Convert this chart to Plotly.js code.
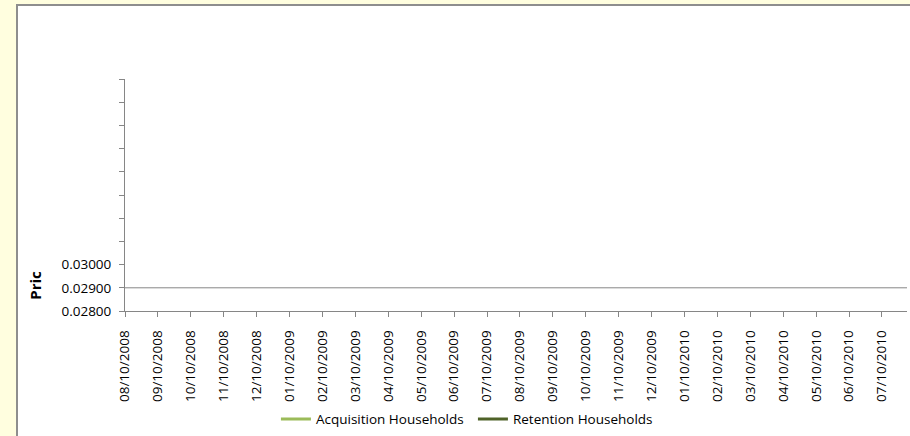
<!DOCTYPE html>
<html>
<head>
<meta charset="utf-8">
<script src="https://cdn.plot.ly/plotly-3.0.1.min.js"></script>
<style>
  html, body { margin: 0; padding: 0; width: 910px; height: 436px; overflow: hidden; background: #FFFEDF; }
  #frame { position: absolute; left: 16px; top: 4px; width: 900px; height: 440px;
           background: #ffffff; border-left: 2px solid #8e8e8e; border-top: 2px solid #8e8e8e; }
  #chart { position: absolute; left: 0; top: 0; width: 910px; height: 436px; }
</style>
</head>
<body>
<div id="frame"></div>
<div id="chart"></div>
<script>
// Monthly observation dates (mm/dd/yyyy)
const dates = [
  "08/10/2008", "09/10/2008", "10/10/2008", "11/10/2008", "12/10/2008",
  "01/10/2009", "02/10/2009", "03/10/2009", "04/10/2009", "05/10/2009",
  "06/10/2009", "07/10/2009", "08/10/2009", "09/10/2009", "10/10/2009",
  "11/10/2009", "12/10/2009", "01/10/2010", "02/10/2010", "03/10/2010",
  "04/10/2010", "05/10/2010", "06/10/2010", "07/10/2010"
];

// Price per household; no values recorded for the period
const acquisitionPrice = [
  null, null, null, null, null, null, null, null, null, null, null, null,
  null, null, null, null, null, null, null, null, null, null, null, null
];
const retentionPrice = [
  null, null, null, null, null, null, null, null, null, null, null, null,
  null, null, null, null, null, null, null, null, null, null, null, null
];

// Price axis ticks; only the lower three carry labels
const priceTicks = [0.028, 0.029, 0.030, 0.031, 0.032, 0.033, 0.034, 0.035, 0.036, 0.037, 0.038];
const priceTickText = ["0.02800", "0.02900", "0.03000", "", "", "", "", "", "", "", ""];
const gridPrice = 0.029;

const FONT = "'Open Sans', Lato, sans-serif";
const AXIS_GREY = "#868686";

const traces = [
  {
    type: "scatter", mode: "lines", name: "Acquisition Households",
    x: dates, y: acquisitionPrice,
    line: { color: "#9BBB59", width: 3 }
  },
  {
    type: "scatter", mode: "lines", name: "Retention Households",
    x: dates, y: retentionPrice,
    line: { color: "#4F6228", width: 3 }
  }
];

const layout = {
  width: 910, height: 436,
  margin: { l: 125, r: 3, t: 79, b: 124 },
  paper_bgcolor: "rgba(0,0,0,0)",
  plot_bgcolor: "rgba(0,0,0,0)",
  font: { family: FONT, size: 13.5, color: "#000000" },
  showlegend: true,
  xaxis: {
    type: "category",
    categoryorder: "array", categoryarray: dates,
    range: [0, 23.76],
    automargin: false,
    showgrid: false, zeroline: false,
    showline: true, linecolor: AXIS_GREY, linewidth: 1,
    ticks: "outside", ticklen: 5, tickcolor: AXIS_GREY, tickwidth: 1,
    tickangle: -90,
    ticklabelstandoff: 8,
    tickfont: { family: FONT, size: 13.5, color: "#000000" },
    fixedrange: true
  },
  yaxis: {
    range: [0.028, 0.038],
    automargin: false,
    tickmode: "array", tickvals: priceTicks, ticktext: priceTickText,
    showgrid: false, zeroline: false,
    showline: true, linecolor: AXIS_GREY, linewidth: 1,
    ticks: "outside", ticklen: 5, tickcolor: AXIS_GREY, tickwidth: 1,
    ticklabelstandoff: 5,
    tickfont: { family: FONT, size: 13.5, color: "#000000" },
    fixedrange: true
  },
  shapes: [
    {
      type: "line", xref: "paper", yref: "y",
      x0: 0, x1: 1, y0: gridPrice, y1: gridPrice,
      line: { color: AXIS_GREY, width: 1 }
    }
  ],
  annotations: [
    {
      text: "<b>Pric</b>", textangle: -90,
      xref: "paper", yref: "y", x: -0.1155, y: 0.02912,
      xanchor: "center", yanchor: "middle", showarrow: false,
      font: { family: FONT, size: 15, color: "#000000" }
    }
  ],
  legend: {
    orientation: "h",
    x: 0.193, xanchor: "left",
    y: -0.46, yanchor: "middle",
    bgcolor: "rgba(0,0,0,0)",
    font: { family: FONT, size: 13.5, color: "#000000" },
    itemwidth: 30,
    entrywidth: 152, entrywidthmode: "pixels"
  }
};

Plotly.newPlot("chart", traces, layout, { displayModeBar: false, staticPlot: true });
</script>
</body>
</html>
